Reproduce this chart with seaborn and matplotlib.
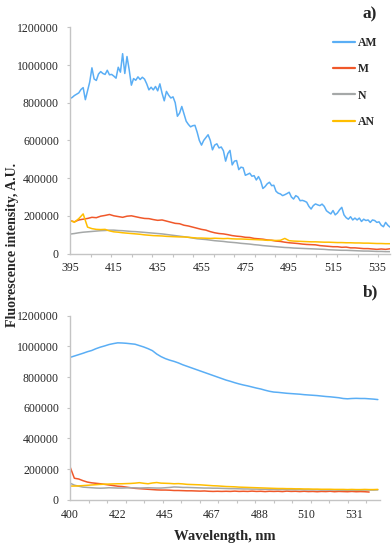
import numpy as np
import pandas as pd
import matplotlib
matplotlib.use("Agg")
import matplotlib.pyplot as plt
from matplotlib.ticker import FixedLocator, FuncFormatter
import seaborn as sns

# samples and colours (Excel-like)
samples = ["AM", "M", "N", "AN"]
sample_colors = ["#5aaef5", "#f0582a", "#a5a8a8", "#ffbe00"]

# ---- panel a) values in thousands of A.U. ----
a_am = [822, 828, 838, 845, 852, 870, 880, 816, 864, 910, 985, 926, 918, 952, 965, 955, 950, 972, 948, 950,
        941, 930, 988, 962, 1060, 955, 1045, 975, 893, 928, 919, 937, 923, 935, 925, 900, 868, 882, 868, 886,
        863, 900, 850, 810, 860, 840, 825, 831, 800, 728, 745, 780, 740, 702, 685, 672, 678, 680, 644, 600,
        575, 600, 615, 630, 600, 550, 575, 582, 560, 565, 545, 490, 530, 547, 470, 490, 493, 445, 458, 455,
        415, 420, 426, 410, 413, 390, 408, 385, 345, 355, 370, 378, 360, 362, 330, 320, 316, 307, 312, 318,
        325, 300, 289, 307, 300, 280, 282, 278, 272, 250, 236, 254, 263, 258, 254, 262, 250, 227, 218, 210,
        228, 205, 215, 232, 245, 205, 190, 182, 195, 178, 188, 178, 188, 170, 182, 175, 178, 165, 178, 175,
        165, 168, 150, 142, 165, 150, 140]
a_m = [175, 168, 178, 182, 186, 192, 190, 198, 202, 207, 200, 196, 192, 198, 200, 195, 190, 186, 185, 180,
       176, 178, 172, 166, 160, 158, 150, 146, 140, 134, 128, 124, 116, 110, 106, 104, 100, 95, 92, 90,
       86, 85, 80, 78, 76, 72, 70, 66, 64, 60, 57, 55, 53, 50, 48, 47, 46, 42, 40, 38,
       36, 36, 33, 34, 30, 30, 28, 26, 26, 24, 22, 24, 22, 25]
a_n = [103, 106, 110, 113, 115, 117, 119, 121, 122, 124, 124, 122, 121, 119, 117, 116, 114, 112, 110, 108,
       106, 104, 101, 98, 95, 92, 89, 86, 82, 78, 76, 74, 71, 68, 66, 64, 61, 59, 57, 54,
       52, 50, 47, 45, 42, 40, 38, 36, 34, 32, 31, 29, 28, 27, 26, 25, 24, 23, 22, 20,
       19, 18, 17, 17, 16, 15, 14, 13, 13, 12, 11, 11, 10, 10]
a_an = [175, 166, 185, 210, 140, 132, 128, 127, 128, 120, 115, 113, 110, 108, 106, 104, 102, 99, 97, 95,
        94, 93, 91, 90, 89, 88, 88, 86, 84, 82, 82, 81, 80, 81, 80, 79, 80, 78, 77, 77,
        76, 75, 74, 73, 72, 70, 70, 69, 70, 80, 68, 66, 65, 64, 63, 62, 62, 61, 60, 60,
        59, 58, 58, 57, 57, 56, 56, 55, 55, 54, 53, 53, 52, 52]
a_wl_am = list(range(395, 542))
a_wl = list(range(395, 542, 2))
a_xticks = [395, 415, 435, 455, 475, 495, 515, 535]

# ---- panel b) ----
b_am = [928, 937, 946, 955, 965, 973, 985, 995, 1003, 1012, 1018, 1023, 1022, 1020, 1017, 1014, 1005, 996,
        985, 972, 950, 933, 920, 910, 902, 892, 880, 870, 860, 850, 840, 830, 820, 810, 800, 790,
        780, 772, 763, 755, 748, 742, 735, 728, 722, 714, 707, 702, 700, 697, 694, 692, 690, 688,
        685, 683, 681, 679, 676, 673, 671, 668, 665, 660, 658, 660, 661, 660, 660, 658, 656, 653]
b_m = [215, 140, 135, 124, 115, 110, 107, 104, 100, 96, 92, 88, 86, 82, 78, 74, 72, 70, 68, 66,
       64, 63, 63, 62, 60, 60, 59, 58, 58, 57, 56, 57, 55, 54, 55, 54, 55, 54, 56, 54,
       55, 54, 56, 54, 55, 53, 55, 54, 55, 53, 56, 54, 55, 53, 55, 53, 54, 52, 54, 53,
       55, 52, 54, 53, 52, 54, 52, 53, 52, 50]
b_n = [108, 95, 88, 82, 80, 78, 76, 75, 76, 78, 77, 76, 76, 77, 78, 77, 76, 77, 78, 77,
       76, 76, 78, 80, 83, 82, 80, 80, 79, 78, 77, 76, 76, 75, 75, 74, 73, 72, 72, 71,
       70, 70, 69, 69, 68, 68, 67, 67, 66, 66, 66, 65, 65, 65, 64, 64, 64, 64, 63, 63,
       63, 63, 62, 62, 62, 62, 62, 62, 63, 63, 63, 64]
b_an = [89, 89, 90, 92, 94, 96, 98, 100, 101, 102, 103, 104, 104, 105, 106, 108, 111, 107, 104, 109,
        112, 108, 107, 106, 104, 105, 103, 100, 99, 98, 97, 95, 93, 91, 90, 88, 86, 85, 84, 82,
        81, 80, 79, 78, 77, 76, 75, 74, 73, 73, 72, 72, 71, 71, 70, 70, 69, 69, 68, 68,
        68, 67, 67, 67, 66, 67, 66, 66, 67, 66, 66, 67]
b_wl = list(range(400, 543, 2))
b_wl_m = list(range(400, 539, 2))
b_xlabels = ["400", "422", "445", "467", "488", "510", "531"]

y_ticks = [0, 200000, 400000, 600000, 800000, 1000000, 1200000]


def make_df(parts):
    frames = []
    for name, wl, vals in parts:
        frames.append(pd.DataFrame({"wl": wl, "val": np.array(vals) * 1000.0, "sample": name}))
    return pd.concat(frames, ignore_index=True)


df_a = make_df([("AM", a_wl_am, a_am), ("M", a_wl, a_m), ("N", a_wl, a_n), ("AN", a_wl, a_an)])
df_b = make_df([("AM", b_wl, b_am), ("M", b_wl_m, b_m), ("N", b_wl, b_n), ("AN", b_wl, b_an)])

sns.set_style("white")
plt.rcParams["font.family"] = ["Liberation Serif", "DejaVu Serif"]

fig = plt.figure(figsize=(3.92, 5.46), dpi=100)
ax_a = fig.add_axes([0.1786, 0.5357, 0.8163, 0.4143])
ax_b = fig.add_axes([0.1786, 0.0848, 0.7908, 0.3370])

sns.lineplot(data=df_a, x="wl", y="val", hue="sample", hue_order=samples, palette=sample_colors,
             estimator=None, linewidth=1.1, ax=ax_a)
sns.lineplot(data=df_b, x="wl", y="val", hue="sample", hue_order=samples, palette=sample_colors,
             estimator=None, linewidth=1.1, ax=ax_b, legend=False)

spine_col = "#c4c4c4"
for ax in (ax_a, ax_b):
    ax.set_ylim(0, 1200000)
    ax.yaxis.set_major_locator(FixedLocator(y_ticks))
    ax.yaxis.set_major_formatter(FuncFormatter(lambda v, p: f"{int(round(v))}"))
    ax.set_xlabel("")
    ax.set_ylabel("")
    for s in ("top", "right"):
        ax.spines[s].set_visible(False)
    for s in ("left", "bottom"):
        ax.spines[s].set_color(spine_col)
        ax.spines[s].set_linewidth(1.0)
    ax.tick_params(axis="y", which="major", length=2.5, width=0.8, color=spine_col,
                   pad=5.5, labelsize=8.5, left=True)
    ax.tick_params(axis="x", which="both", width=0.8, color=spine_col, labelsize=8.5, bottom=True)

# panel a x axis: Excel category style, labels every 20 nm, tick marks in between
ax_a.set_xlim(395, 541)
ax_a.xaxis.set_major_locator(FixedLocator(a_xticks))
ax_a.set_xticklabels([str(t) for t in a_xticks])
ax_a.xaxis.set_minor_locator(FixedLocator(395 + np.arange(16) * 9.37))
ax_a.tick_params(axis="x", which="major", length=0, pad=6.3)
ax_a.tick_params(axis="x", which="minor", length=2.5)

# panel b x axis
ax_b.set_xlim(400, 543)
b_pos = 400 + np.arange(len(b_xlabels)) * 21.83
ax_b.xaxis.set_major_locator(FixedLocator(b_pos))
ax_b.set_xticklabels(b_xlabels)
ax_b.xaxis.set_minor_locator(FixedLocator(400 + np.arange(17) * 8.54))
ax_b.tick_params(axis="x", which="major", length=0, pad=6.5)
ax_b.tick_params(axis="x", which="minor", length=2.5)

# legend
old = ax_a.get_legend()
handles = old.legend_handles
labels = [t.get_text() for t in old.get_texts()]
old.remove()
for h in handles:
    h.set_linewidth(1.6)
ax_a.legend(handles, labels, loc="upper left", bbox_to_anchor=(0.822, 0.958), frameon=False,
            borderpad=0, borderaxespad=0, handlelength=1.9, handletextpad=0.2, labelspacing=1.22,
            prop={"weight": "bold", "size": 8.5})

fig.text(0.031, 0.551, "Fluorescence intensity, A.U.", rotation=90, ha="center", va="center",
         fontsize=10, fontweight="bold")
fig.text(0.573, 0.017, "Wavelength, nm", ha="center", va="center", fontsize=10.5, fontweight="bold")
fig.text(0.944, 0.974, "a)", ha="center", va="center", fontsize=12.5, fontweight="bold")
fig.text(0.944, 0.465, "b)", ha="center", va="center", fontsize=12.5, fontweight="bold")

fig.savefig("out.png", dpi=100)
